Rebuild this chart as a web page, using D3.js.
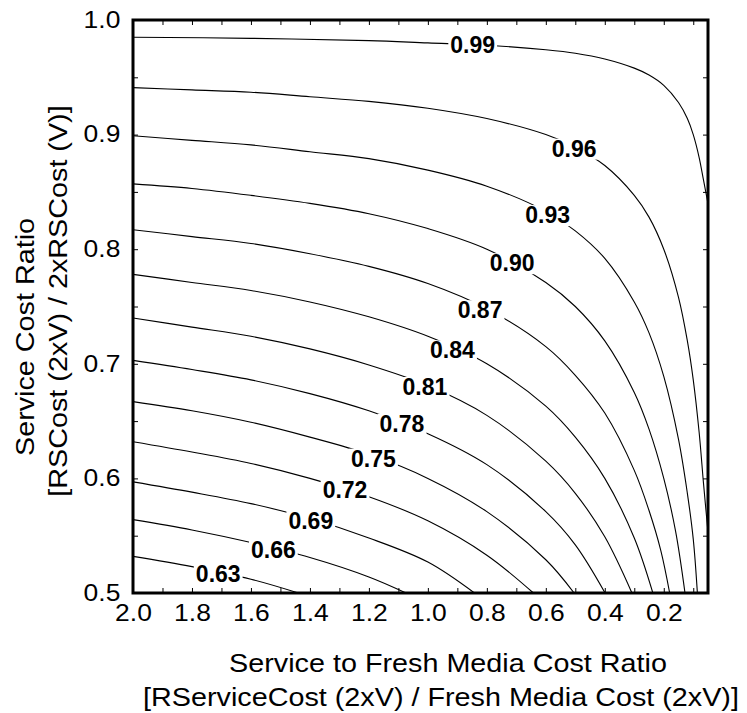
<!DOCTYPE html>
<html>
<head>
<meta charset="utf-8">
<script src="https://cdn.jsdelivr.net/npm/d3@7"></script>
<style>
  html, body { margin: 0; padding: 0; background: #fff; }
  svg { display: block; font-family: "Liberation Sans", Arial, sans-serif; }
</style>
</head>
<body>
<div id="chart"></div>
<script>
const width = 747;
const height = 713;
const margin = {top: 20, right: 39, bottom: 120, left: 133};

// contour levels and where their labels sit (data coords)
const levels = [0.63, 0.66, 0.69, 0.72, 0.75, 0.78, 0.81, 0.84, 0.87, 0.90, 0.93, 0.96, 0.99];
const labelX = [1.711, 1.524, 1.397, 1.281, 1.185, 1.088, 1.01, 0.917, 0.823, 0.714, 0.594, 0.504, 0.848];
const labelY = [0.517, 0.538, 0.563, 0.590, 0.6175, 0.648, 0.680, 0.712, 0.747, 0.788, 0.830, 0.888, 0.978];

// contour lines, [x, y]
const line063 = [[2.0,0.532],[1.8,0.523],[1.6,0.512],[1.439,0.5]];
const line066 = [[2.0,0.564],[1.8,0.555],[1.6,0.544],[1.4,0.531],[1.2,0.514],[1.074,0.5]];
const line069 = [[2.0,0.597],[1.8,0.588],[1.6,0.578],[1.4,0.565],[1.2,0.548],[1.0,0.527],[0.842,0.5]];
const line072 = [[2.0,0.632],[1.8,0.623],[1.6,0.613],[1.4,0.600],[1.2,0.584],[1.0,0.563],[0.8,0.533],[0.642,0.5]];
const line075 = [[2.0,0.667],[1.8,0.659],[1.6,0.649],[1.4,0.636],[1.2,0.621],[1.0,0.600],[0.8,0.571],[0.6,0.529],[0.504,0.5]];
const line078 = [[2.0,0.703],[1.8,0.695],[1.6,0.686],[1.4,0.674],[1.2,0.659],[1.0,0.639],[0.8,0.612],[0.6,0.571],[0.5,0.542],[0.399,0.5]];
const line081 = [[2.0,0.740],[1.8,0.732],[1.6,0.724],[1.4,0.713],[1.2,0.699],[1.0,0.681],[0.8,0.655],[0.6,0.615],[0.5,0.587],[0.4,0.549],[0.308,0.5]];
const line084 = [[2.0,0.778],[1.8,0.771],[1.6,0.764],[1.4,0.754],[1.2,0.741],[1.0,0.724],[0.8,0.700],[0.6,0.663],[0.5,0.636],[0.4,0.600],[0.3,0.548],[0.237,0.5]];
const line087 = [[2.0,0.817],[1.8,0.811],[1.6,0.805],[1.4,0.796],[1.2,0.785],[1.0,0.770],[0.8,0.748],[0.6,0.715],[0.5,0.690],[0.4,0.657],[0.3,0.607],[0.25,0.572],[0.21,0.537],[0.18,0.5]];
const line090 = [[2.0,0.857],[1.8,0.853],[1.6,0.847],[1.4,0.840],[1.2,0.831],[1.0,0.818],[0.8,0.800],[0.6,0.771],[0.5,0.750],[0.4,0.720],[0.3,0.675],[0.25,0.643],[0.2,0.600],[0.16,0.554],[0.128,0.5]];
const line093 = [[2.0,0.899],[1.8,0.895],[1.6,0.891],[1.4,0.885],[1.2,0.879],[1.0,0.869],[0.8,0.855],[0.6,0.833],[0.5,0.816],[0.4,0.792],[0.3,0.754],[0.25,0.727],[0.2,0.689],[0.15,0.634],[0.12,0.587],[0.1,0.547],[0.086,0.5]];
const line096 = [[2.0,0.941],[1.8,0.939],[1.6,0.937],[1.4,0.933],[1.2,0.929],[1.0,0.923],[0.8,0.914],[0.6,0.900],[0.5,0.889],[0.4,0.873],[0.3,0.847],[0.25,0.828],[0.2,0.800],[0.15,0.758],[0.12,0.720],[0.1,0.686],[0.08,0.640],[0.065,0.595],[0.05,0.553]];
const line099 = [[2.0,0.985],[1.6,0.984],[1.2,0.982],[1.0,0.980],[0.8,0.978],[0.6,0.974],[0.5,0.971],[0.4,0.966],[0.3,0.958],[0.25,0.952],[0.2,0.943],[0.15,0.928],[0.12,0.914],[0.1,0.900],[0.08,0.880],[0.065,0.860],[0.05,0.840]];

const xTicks = [2.0, 1.8, 1.6, 1.4, 1.2, 1.0, 0.8, 0.6, 0.4, 0.2];
const xMinor = [1.9, 1.7, 1.5, 1.3, 1.1, 0.9, 0.7, 0.5, 0.3, 0.1];
const yTicks = [0.5, 0.6, 0.7, 0.8, 0.9, 1.0];
const yMinor = [0.55, 0.65, 0.75, 0.85, 0.95];

const xTitle = ["Service to Fresh Media Cost Ratio", "[RServiceCost (2xV) / Fresh Media Cost (2xV)]"];
const yTitle = ["Service Cost Ratio", "[RSCost (2xV) / 2xRSCost (V)]"];

const contours = levels.map((v, i) => ({
  level: v,
  points: [line063, line066, line069, line072, line075, line078, line081, line084, line087, line090, line093, line096, line099][i],
  lx: labelX[i],
  ly: labelY[i]
}));

const stretch = 1.15;   // fonts in the source look widened along the baseline
const fmt = d3.format(".1f");
const fmtLevel = d3.format(".2f");

const x = d3.scaleLinear()
  .domain([2.0, 0.05])
  .range([margin.left, width - margin.right]);

const y = d3.scaleLinear()
  .domain([0.5, 1.0])
  .range([height - margin.bottom, margin.top]);

const line = d3.line()
  .x(d => x(d[0]))
  .y(d => y(d[1]))
  .curve(d3.curveCatmullRom.alpha(0.5));

const svg = d3.select("#chart")
  .append("svg")
  .attr("width", width)
  .attr("height", height)
  .attr("viewBox", [0, 0, width, height]);

svg.append("clipPath")
  .attr("id", "plot-clip")
  .append("rect")
  .attr("x", margin.left)
  .attr("y", margin.top)
  .attr("width", width - margin.left - margin.right)
  .attr("height", height - margin.top - margin.bottom);

// contour lines
svg.append("g")
  .attr("clip-path", "url(#plot-clip)")
  .selectAll("path")
  .data(contours)
  .join("path")
  .attr("fill", "none")
  .attr("stroke", "#000")
  .attr("stroke-width", 1.1)
  .attr("d", d => line(d.points));

// labels with white knock-out boxes
const labels = svg.append("g")
  .selectAll("g")
  .data(contours)
  .join("g")
  .attr("transform", d => `translate(${x(d.lx)},${y(d.ly)})`);

labels.append("text")
  .attr("text-anchor", "middle")
  .attr("dy", "0.36em")
  .attr("font-size", 23)
  .attr("font-weight", "bold")
  .text(d => fmtLevel(d.level));

labels.each(function() {
  const g = d3.select(this);
  const b = g.select("text").node().getBBox();
  g.insert("rect", "text")
    .attr("x", b.x - 2)
    .attr("y", b.y + 3)
    .attr("width", b.width + 4)
    .attr("height", b.height - 5)
    .attr("fill", "#fff");
});

// axes: inward ticks on all four sides
const xAxis = (g, vals, labelled) => {
  g.attr("transform", `translate(0,${height - margin.bottom})`)
    .call(d3.axisBottom(x).tickValues(vals).tickSizeInner(-5).tickSizeOuter(0).tickPadding(12)
      .tickFormat(labelled ? fmt : ""));
};

const yAxis = (g, vals, labelled) => {
  g.attr("transform", `translate(${margin.left},0)`)
    .call(d3.axisLeft(y).tickValues(vals).tickSizeInner(-5).tickSizeOuter(0).tickPadding(11)
      .tickFormat(labelled ? fmt : ""));
};

svg.append("g").call(xAxis, xTicks, true);
svg.append("g").call(xAxis, xMinor, false);
svg.append("g").call(yAxis, yTicks, true);
svg.append("g").call(yAxis, yMinor, false);

svg.append("g")
  .attr("transform", `translate(0,${margin.top})`)
  .call(d3.axisTop(x).tickValues(xTicks.concat(xMinor)).tickSizeInner(-5).tickSizeOuter(0).tickFormat(""));

svg.append("g")
  .attr("transform", `translate(${width - margin.right},0)`)
  .call(d3.axisRight(y).tickValues(yTicks.concat(yMinor)).tickSizeInner(-5).tickSizeOuter(0).tickFormat(""));

svg.selectAll(".domain").remove();
svg.selectAll(".tick line").attr("stroke", "#000").attr("stroke-width", 1);
svg.selectAll(".tick text")
  .attr("font-family", "Liberation Sans, Arial, sans-serif")
  .attr("font-size", 23)
  .attr("fill", "#000")
  .attr("transform", `scale(${stretch},1)`);

// frame
svg.append("rect")
  .attr("x", margin.left)
  .attr("y", margin.top)
  .attr("width", width - margin.left - margin.right)
  .attr("height", height - margin.top - margin.bottom)
  .attr("fill", "none")
  .attr("stroke", "#000")
  .attr("stroke-width", 3);

// axis titles
svg.append("g")
  .selectAll("text")
  .data(xTitle)
  .join("text")
  .attr("text-anchor", "middle")
  .attr("font-size", 25)
  .attr("transform", (d, i) => `translate(${i ? 441 : 448},${i ? 706 : 672}) scale(${stretch},1)`)
  .text(d => d);

svg.append("g")
  .selectAll("text")
  .data(yTitle)
  .join("text")
  .attr("text-anchor", "middle")
  .attr("font-size", 25)
  .attr("transform", (d, i) => `translate(${i ? 67 : 34},${i ? 301 : 337}) rotate(-90) scale(${stretch},1)`)
  .text(d => d);
</script>
</body>
</html>
